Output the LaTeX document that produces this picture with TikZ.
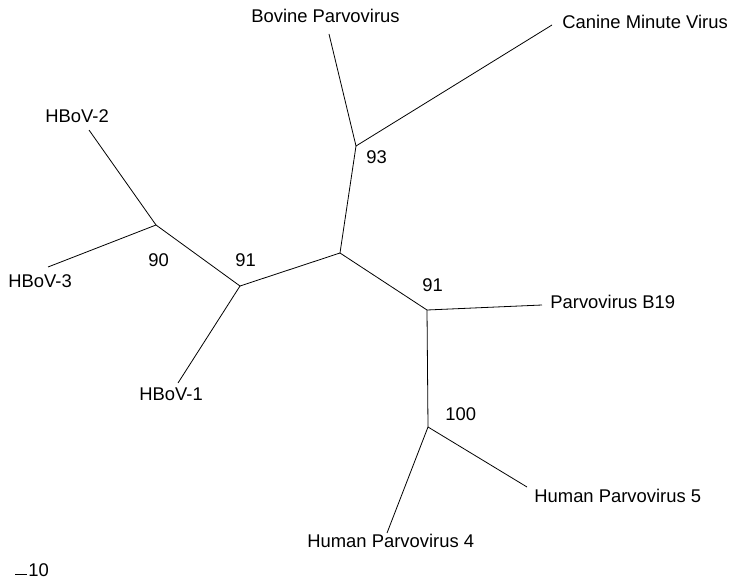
\documentclass[tikz,border=0pt]{standalone}
\usepackage{fontspec}
\setmainfont{Liberation Sans}
\usetikzlibrary{positioning}

\begin{document}
\begin{tikzpicture}[x=1pt, y=-1pt, line width=0.8pt,
    taxon/.style = {inner sep=0pt, anchor=base west, font=\fontsize{18.4}{22}\selectfont},
    support/.style = {inner sep=0pt, anchor=base west, font=\fontsize{18.4}{22}\selectfont}]
            \useasboundingbox (0,0) rectangle (730,580);
            % Junctions
            \coordinate (root) at (340,253);
            \coordinate (j93) at (356,146);
            \coordinate (j91l) at (240,286);
            \coordinate (j90) at (156,225);
            \coordinate (j91r) at (427,310);
            \coordinate (j100) at (428,427);
            % Tips
            \coordinate (bpv) at (329,34);
            \coordinate (cmv) at (552,25);
            \coordinate (hbov2) at (89,130);
            \coordinate (hbov3) at (48,267);
            \coordinate (hbov1) at (178,383);
            \coordinate (b19) at (542,305);
            \coordinate (hpv5) at (527,487);
            \coordinate (hpv4) at (387,533);
            % Taxa
            \node[taxon, anchor=base east] (bpv-txt) at (400,23) {Bovine Parvovirus};
            \node[taxon] (cmv-txt) at (562,29) {Canine Minute Virus};
            \node[taxon] (hbov2-txt) at (45,123) {HBoV-2};
            \node[taxon] (hbov3-txt) at (8,287) {HBoV-3};
            \node[taxon] (hbov1-txt) at (139,400) {HBoV-1};
            \node[taxon] (b19-txt) at (550,308) {Parvovirus B19};
            \node[taxon] (hpv5-txt) at (534,502) {Human Parvovirus 5};
            \node[taxon] (hpv4-txt) at (307,547) {Human Parvovirus 4};
            % Bootstrap values
            \node[support] (b93) at (366,164) {93};
            \node[support] (b90) at (148,266) {90};
            \node[support] (b91l) at (235,266) {91};
            \node[support] (b91r) at (422,291) {91};
            \node[support] (b100) at (445,420) {100};
            % Edges
            \draw (root) -- (j93);
            \draw (j93) -- (bpv);
            \draw (j93) -- (cmv);
            \draw (root) -- (j91l);
            \draw (j91l) -- (j90);
            \draw (j90) -- (hbov2);
            \draw (j90) -- (hbov3);
            \draw (j91l) -- (hbov1);
            \draw (root) -- (j91r);
            \draw (j91r) -- (b19);
            \draw (j91r) -- (j100);
            \draw (j100) -- (hpv5);
            \draw (j100) -- (hpv4);
            % Scale bar
            \coordinate (bar-a) at (15,574);
            \coordinate (bar-b) at (27,574);
            \draw (bar-a) -- (bar-b);
            \node[taxon] (bar-txt) at (28,576) {10};
\end{tikzpicture}
\end{document}
